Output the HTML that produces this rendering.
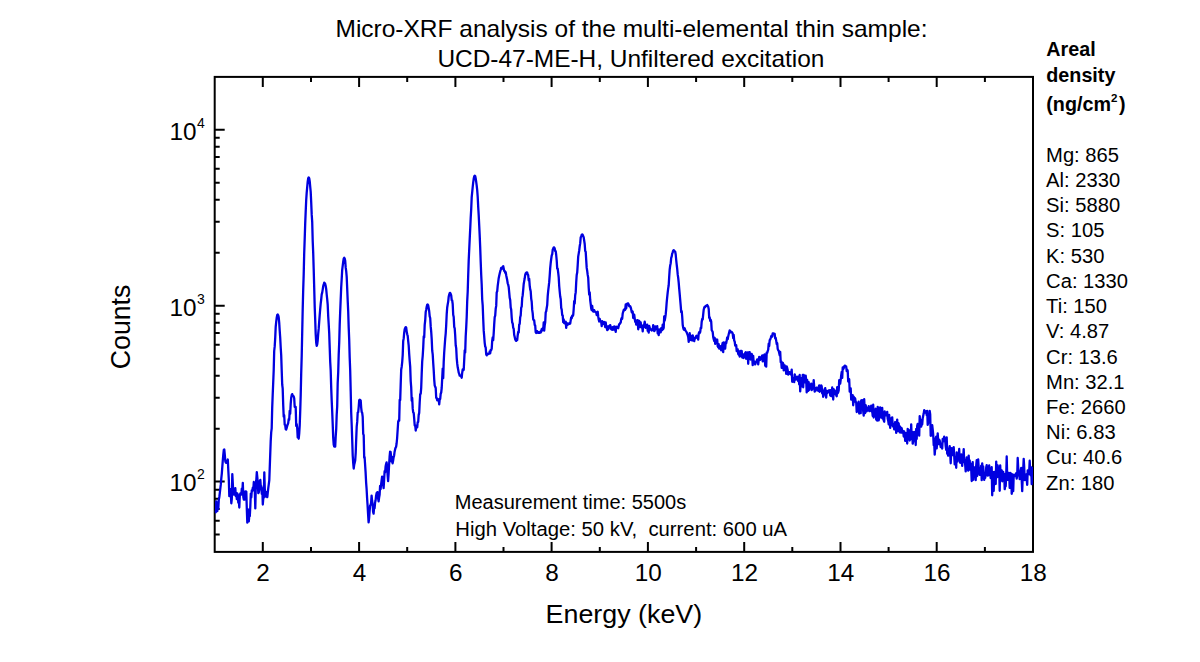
<!DOCTYPE html><html><head><meta charset="utf-8"><title>Micro-XRF</title>
<style>html,body{margin:0;padding:0;background:#fff}svg{display:block}text{font-family:"Liberation Sans",Arial,sans-serif;fill:#000}</style></head><body>
<svg width="1200" height="662" viewBox="0 0 1200 662">
<rect width="1200" height="662" fill="#fff"/>
<rect x="214.7" y="76.9" width="818.3" height="475.0" fill="none" stroke="#000" stroke-width="2"/>
<path d="M262.8 76.9v10M262.8 551.9v-10M311.0 76.9v5M311.0 551.9v-5M359.1 76.9v10M359.1 551.9v-10M407.2 76.9v5M407.2 551.9v-5M455.4 76.9v10M455.4 551.9v-10M503.5 76.9v5M503.5 551.9v-5M551.6 76.9v10M551.6 551.9v-10M599.8 76.9v5M599.8 551.9v-5M647.9 76.9v10M647.9 551.9v-10M696.1 76.9v5M696.1 551.9v-5M744.2 76.9v10M744.2 551.9v-10M792.3 76.9v5M792.3 551.9v-5M840.5 76.9v10M840.5 551.9v-10M888.6 76.9v5M888.6 551.9v-5M936.7 76.9v10M936.7 551.9v-10M984.9 76.9v5M984.9 551.9v-5M214.7 534.6h5M214.7 520.7h5M214.7 508.9h5M214.7 498.7h5M214.7 489.7h5M214.7 481.6h10M214.7 428.7h5M214.7 397.7h5M214.7 375.7h5M214.7 358.7h5M214.7 344.7h5M214.7 333.0h5M214.7 322.8h5M214.7 313.8h5M214.7 305.7h10M214.7 252.7h5M214.7 221.8h5M214.7 199.8h5M214.7 182.7h5M214.7 168.8h5M214.7 157.0h5M214.7 146.8h5M214.7 137.8h5M214.7 129.8h10" stroke="#000" stroke-width="2" fill="none"/>
<clipPath id="c"><rect x="214.7" y="76.9" width="818.3" height="475.0"/></clipPath>
<path clip-path="url(#c)" d="M215.3 511.3L215.8 512.3L216.3 501.3L216.8 507.9L217.3 511.1L217.8 505.6L218.3 508.7L218.8 499.7L219.3 497.0L219.8 493.2L220.3 488.6L220.8 484.4L221.3 478.3L221.8 473.6L222.3 466.8L222.8 460.4L223.3 454.7L223.8 449.9L224.3 449.5L224.8 454.9L225.3 461.1L225.8 462.6L226.3 462.9L226.8 462.5L227.3 461.5L227.8 459.5L228.3 470.2L228.8 479.3L229.3 496.1L229.8 493.9L230.3 489.2L230.8 493.2L231.3 503.3L231.8 499.0L232.3 474.1L232.8 483.3L233.3 493.3L233.8 494.6L234.3 493.1L234.8 490.4L235.3 488.1L235.8 496.1L236.3 492.9L236.8 499.1L237.3 493.5L237.8 494.7L238.3 502.7L238.8 500.2L239.3 507.5L239.8 495.9L240.3 493.5L240.8 493.9L241.3 494.6L241.8 488.7L242.3 492.8L242.8 482.9L243.3 497.0L243.8 499.5L244.3 493.5L244.8 499.5L245.3 491.3L245.8 493.3L246.3 491.5L246.8 508.7L247.3 522.7L247.8 509.1L248.3 516.3L248.8 521.4L249.3 515.3L249.8 516.1L250.3 506.7L250.8 493.6L251.3 497.5L251.8 490.4L252.3 491.2L252.8 487.7L253.3 489.7L253.8 482.0L254.3 489.8L254.8 490.6L255.3 508.4L255.8 486.1L256.3 480.2L256.8 472.1L257.3 477.2L257.8 483.1L258.3 493.2L258.8 492.4L259.3 489.4L259.8 481.0L260.3 479.9L260.8 486.5L261.3 486.3L261.8 493.9L262.3 488.1L262.8 504.5L263.3 497.9L263.8 497.8L264.3 472.3L264.8 489.0L265.3 493.1L265.8 496.6L266.3 492.2L266.8 495.5L267.3 497.1L267.8 492.3L268.3 487.9L268.8 484.2L269.3 480.2L270.7 441.3L271.2 432.4L271.7 428.3L272.2 407.9L272.7 394.7L273.2 382.7L273.7 370.3L274.2 351.0L274.7 346.4L275.2 338.1L275.7 326.9L276.2 321.9L276.7 317.8L277.2 315.1L277.7 314.5L278.2 315.4L278.7 317.4L279.2 322.5L279.7 330.5L280.2 337.7L280.7 347.2L281.2 355.2L281.7 370.2L282.2 384.5L282.7 388.7L283.2 404.7L283.7 416.6L284.2 415.2L284.7 424.7L285.2 425.0L285.7 429.1L286.2 429.5L286.7 427.9L287.2 426.0L287.7 424.5L288.2 423.2L288.7 419.2L289.2 419.7L289.7 410.8L290.2 413.8L290.7 403.9L291.2 397.8L291.7 395.1L292.2 394.1L292.7 395.6L293.2 395.8L293.7 396.5L294.2 398.2L294.7 406.9L295.2 407.1L295.7 407.0L296.2 426.0L296.7 424.1L297.2 428.0L297.7 437.4L298.2 437.3L298.7 438.7L299.2 433.7L299.7 425.7L300.2 411.8L300.7 395.3L301.2 373.4L301.7 356.3L302.2 332.8L302.7 309.2L303.2 289.8L303.7 274.1L304.2 253.2L304.7 238.9L305.2 223.6L305.7 211.4L306.2 200.0L306.7 192.6L307.2 187.2L307.7 181.7L308.2 178.3L308.7 177.4L309.2 178.3L309.7 181.2L310.2 186.6L310.7 191.9L311.2 202.4L311.7 214.4L312.2 221.8L312.7 240.8L313.2 252.9L313.7 269.2L314.2 287.5L314.7 306.6L315.2 319.7L315.7 334.1L316.2 342.6L316.7 345.9L317.2 344.3L317.7 340.5L318.2 333.9L318.7 328.7L319.2 321.6L319.7 315.2L320.2 309.2L320.7 303.7L321.2 299.5L321.7 294.4L322.2 292.6L322.7 289.6L323.2 286.1L323.7 284.7L324.2 282.7L324.7 283.1L325.2 283.9L325.7 286.0L326.2 289.2L326.7 294.5L327.2 299.1L327.7 304.7L328.2 316.1L328.7 324.2L329.2 333.1L329.7 347.4L330.2 361.7L330.7 370.7L331.2 387.6L331.7 400.6L332.2 411.6L332.7 424.1L333.2 437.7L333.7 444.4L334.2 446.5L334.7 446.7L335.2 446.7L335.7 436.4L336.2 429.1L336.7 414.7L337.2 406.2L337.7 382.7L338.2 372.4L338.7 354.8L339.2 342.8L339.7 324.7L340.2 311.4L340.7 299.1L341.2 287.2L341.7 278.7L342.2 269.8L342.7 265.9L343.2 261.8L343.7 258.6L344.2 257.8L344.7 258.5L345.2 260.8L345.7 267.7L346.2 271.1L346.7 276.9L347.2 288.6L347.7 300.8L348.2 311.5L348.7 327.4L349.2 339.7L349.7 357.8L350.2 370.7L350.7 391.1L351.2 412.8L351.7 425.2L352.2 439.6L352.7 455.2L353.2 462.9L353.7 468.5L354.2 464.8L354.7 462.7L355.2 460.5L355.7 452.9L356.2 439.1L356.7 426.6L357.2 421.9L357.7 412.6L358.2 412.2L358.7 407.0L359.2 400.3L359.7 399.7L360.2 400.0L360.7 400.5L361.2 407.8L361.7 412.0L362.2 412.9L362.7 416.8L363.2 433.9L363.7 435.2L364.2 457.8L364.6 457.0L365.1 464.8L365.6 472.4L366.1 482.3L366.6 489.0L367.1 498.0L367.6 505.7L368.1 514.5L368.6 522.4L369.1 518.1L369.6 511.4L370.1 505.6L370.6 504.9L371.1 502.8L371.6 495.6L372.1 500.8L372.6 503.7L373.1 512.0L373.6 513.6L374.1 507.6L374.6 508.1L375.1 502.5L375.6 500.3L376.1 495.7L376.6 493.2L377.1 492.4L377.6 492.1L378.1 498.4L378.6 501.4L379.1 497.6L379.6 494.9L380.1 485.9L380.6 489.2L381.1 484.3L381.6 480.5L382.1 476.7L382.6 483.6L383.1 484.0L383.6 488.1L384.1 480.1L384.6 471.2L385.1 472.5L385.6 466.6L386.1 464.1L386.6 462.3L387.1 466.2L387.6 475.0L388.1 481.2L388.6 474.0L389.1 464.7L389.6 456.7L390.1 451.7L390.6 452.0L391.1 456.3L391.6 461.7L392.1 456.8L392.6 463.4L393.1 460.8L393.6 457.4L394.1 455.7L394.6 451.7L395.1 449.4L395.6 447.6L396.1 446.9L396.6 443.5L397.1 438.5L397.7 429.2L398.2 421.7L398.7 420.3L399.2 420.6L399.7 399.8L400.2 399.9L400.7 384.0L401.2 369.5L401.7 366.7L402.2 362.1L402.7 355.1L403.2 341.0L403.7 338.4L404.2 332.7L404.7 329.2L405.2 328.1L405.7 327.1L406.2 327.6L406.7 331.6L407.2 334.2L407.7 335.9L408.2 341.2L408.7 345.7L409.2 354.1L409.7 360.9L410.2 366.9L410.7 381.0L411.2 387.3L411.7 400.8L412.2 398.0L412.7 408.4L413.2 412.3L413.7 413.0L414.2 418.7L414.7 425.5L415.2 425.1L415.7 430.5L416.2 427.6L416.7 427.4L417.2 427.4L417.7 422.2L418.2 421.9L418.7 414.9L419.2 412.9L419.7 402.2L420.2 394.0L420.7 393.8L421.2 387.8L421.7 373.7L422.2 361.4L422.7 356.0L423.2 347.9L423.7 336.5L424.2 337.5L424.7 324.9L425.2 320.5L425.7 312.0L426.2 309.7L426.7 306.8L427.2 304.8L427.7 304.5L428.2 305.4L428.7 308.2L429.2 311.3L429.7 316.4L430.2 318.0L430.7 326.4L431.2 331.6L431.7 339.1L432.2 350.5L432.7 354.3L433.2 362.7L433.7 370.2L434.2 379.3L434.7 385.4L435.2 386.8L435.7 388.0L436.2 397.9L436.7 397.9L437.2 400.3L437.7 400.2L438.2 400.5L438.7 399.3L439.2 404.4L439.7 399.5L440.2 398.9L440.7 393.7L441.2 392.5L441.7 388.0L442.2 378.3L442.7 368.6L443.2 378.1L443.7 362.0L444.2 352.5L444.7 345.5L445.2 338.6L445.7 333.5L446.2 325.0L446.7 314.2L447.2 307.5L447.7 304.4L448.2 301.6L448.7 296.7L449.2 294.6L449.7 293.1L450.2 292.9L450.7 294.0L451.2 295.3L451.7 300.2L452.2 300.5L452.7 304.2L453.2 314.8L453.7 317.0L454.2 326.9L454.7 328.4L455.2 335.5L455.7 345.2L456.2 348.1L456.7 357.8L457.2 363.4L457.7 367.3L458.2 369.7L458.7 372.6L459.2 373.9L459.7 375.7L460.2 375.6L460.7 375.6L461.2 376.6L461.7 377.7L462.2 372.7L462.7 369.5L463.2 370.1L463.7 369.9L464.2 360.2L464.7 350.3L465.2 352.4L465.7 336.3L466.2 327.6L466.7 317.0L467.2 301.2L467.7 291.7L468.2 275.3L468.7 260.6L469.2 249.7L469.7 239.1L470.2 229.0L470.7 217.9L471.2 209.2L471.7 197.2L472.2 192.1L472.7 187.0L473.2 182.5L473.7 178.8L474.2 176.4L474.7 175.7L475.2 176.1L475.7 178.5L476.2 181.9L476.7 185.6L477.2 190.1L477.7 196.9L478.2 206.9L478.7 215.1L479.2 225.3L479.7 235.6L480.2 247.6L480.7 261.7L481.2 274.8L481.7 284.7L482.2 299.5L482.7 305.5L483.2 318.7L483.7 330.4L484.2 336.3L484.7 342.8L485.2 346.5L485.7 347.6L486.2 354.2L486.7 355.4L487.2 353.7L487.7 354.3L488.2 354.1L488.7 353.7L489.2 353.7L489.7 351.4L490.2 353.3L490.7 349.8L491.2 350.1L491.7 348.6L492.2 340.8L492.7 337.4L493.2 340.1L493.7 333.1L494.2 324.4L494.7 317.2L495.2 315.6L495.7 308.8L496.2 305.9L496.7 292.4L497.2 291.3L497.7 285.8L498.2 282.1L498.7 278.2L499.2 275.7L499.7 273.6L500.2 271.4L500.7 269.8L501.2 267.9L501.7 268.8L502.2 268.5L502.7 266.8L503.2 266.1L503.7 268.6L504.2 270.9L504.7 271.0L505.2 272.8L505.7 272.2L506.2 275.3L506.7 277.7L507.2 280.1L507.7 283.3L508.2 284.7L508.7 287.0L509.2 292.4L509.7 297.8L510.2 299.9L510.7 307.5L511.2 309.6L511.7 317.5L512.2 322.6L512.7 323.4L513.2 327.8L513.7 328.8L514.2 335.0L514.7 336.9L515.2 339.2L515.7 340.4L516.2 340.9L516.7 339.3L517.2 340.1L517.7 335.2L518.2 332.0L518.7 332.5L519.2 324.6L519.7 323.8L520.2 317.2L520.7 315.4L521.2 307.7L521.7 306.6L522.2 298.1L522.7 295.2L523.2 289.8L523.7 284.0L524.2 281.1L524.7 278.3L525.2 274.8L525.7 273.3L526.2 272.8L526.7 272.3L527.2 272.5L527.7 274.5L528.2 275.2L528.7 280.5L529.2 278.9L529.7 285.6L530.2 289.4L530.7 291.3L531.2 298.6L531.7 301.7L532.2 309.9L532.7 313.3L533.2 319.3L533.7 320.2L534.2 320.4L534.7 325.0L535.2 325.6L535.7 332.1L536.2 333.0L536.7 332.8L537.2 331.2L537.7 332.1L538.2 332.9L538.7 332.3L539.2 332.9L539.7 332.6L540.2 331.8L540.7 332.5L541.2 331.6L541.7 329.1L542.2 330.4L542.7 328.2L543.2 329.8L543.7 322.5L544.2 330.6L544.7 325.4L545.2 322.2L545.7 312.4L546.2 311.2L546.7 308.0L547.2 305.1L547.7 296.1L548.2 290.9L548.7 286.6L549.2 282.2L549.7 275.7L550.2 268.1L550.7 263.0L551.2 259.0L551.7 255.5L552.2 254.3L552.7 249.8L553.2 248.6L553.7 247.5L554.2 247.5L554.7 248.6L555.2 250.9L555.7 251.2L556.2 255.0L556.7 260.3L557.2 268.7L557.7 268.6L558.2 272.6L558.7 277.1L559.2 286.0L559.7 291.5L560.2 296.5L560.7 298.9L561.2 307.9L561.7 309.6L562.2 315.1L562.7 315.3L563.2 322.1L563.7 319.4L564.2 323.0L564.7 323.4L565.2 322.4L565.7 321.7L566.2 327.9L566.7 323.0L567.2 323.9L567.7 324.8L568.2 323.6L568.7 324.0L569.2 323.3L569.7 323.8L570.2 323.6L570.7 320.4L571.2 317.3L571.7 318.2L572.2 315.6L572.7 316.1L573.2 315.1L573.7 309.0L574.2 301.1L574.7 303.5L575.2 295.3L575.7 292.4L576.2 282.4L576.7 275.0L577.2 272.6L577.7 265.1L578.2 256.6L578.7 253.6L579.2 250.5L579.7 246.3L580.2 243.4L580.7 237.4L581.2 236.5L581.7 234.7L582.2 234.4L582.7 234.9L583.2 236.3L583.7 237.3L584.2 240.7L584.7 244.0L585.2 251.0L585.7 251.9L586.2 259.9L586.7 267.9L587.2 270.9L587.7 274.9L588.2 277.6L588.7 287.6L589.2 294.7L589.7 292.3L590.2 300.0L590.7 304.1L591.2 308.4L591.7 310.1L592.2 306.0L592.7 310.5L593.2 311.5L593.7 311.5L594.2 310.1L594.7 311.4L595.2 311.7L595.7 312.0L596.2 312.5L596.7 315.0L597.2 312.9L597.7 311.7L598.2 316.4L598.7 319.5L599.2 321.5L599.7 318.9L600.2 320.9L600.7 321.4L601.2 321.8L601.7 326.1L602.2 321.1L602.7 322.8L603.2 323.8L603.7 323.3L604.2 322.0L604.7 324.5L605.2 327.1L605.7 322.4L606.2 326.6L606.7 327.7L607.2 330.1L607.7 326.4L608.2 329.3L608.7 328.2L609.2 326.0L609.7 327.3L610.2 325.1L610.7 327.1L611.2 329.2L611.7 329.2L612.2 329.9L612.7 327.1L613.2 328.6L613.7 329.6L614.2 326.3L614.7 328.1L615.2 329.3L615.7 331.9L616.2 326.7L616.7 326.9L617.2 327.0L617.7 327.8L618.2 328.2L618.7 326.0L619.2 324.1L619.7 324.0L620.2 323.0L620.7 322.6L621.2 319.2L621.7 318.0L622.2 318.7L622.7 313.5L623.2 311.8L623.7 310.0L624.2 310.5L624.7 309.0L625.2 309.7L625.7 304.5L626.2 308.3L626.7 304.5L627.2 303.7L627.7 303.3L628.2 303.4L628.7 304.4L629.2 306.3L629.7 306.5L630.2 306.1L630.7 307.4L631.2 309.4L631.7 312.1L632.2 312.6L632.7 311.5L633.2 318.0L633.7 316.8L634.2 314.6L634.7 318.4L635.2 321.9L635.7 320.3L636.2 324.6L636.7 323.5L637.2 320.4L637.7 320.1L638.2 329.3L638.7 323.5L639.2 320.8L639.7 327.0L640.2 325.1L640.7 322.3L641.2 327.3L641.7 325.1L642.2 326.4L642.7 331.4L643.2 325.6L643.7 327.0L644.2 324.4L644.7 321.7L645.2 325.1L645.7 327.8L646.2 325.8L646.7 326.5L647.2 324.6L647.7 330.8L648.2 330.2L648.7 332.6L649.2 325.9L649.7 327.5L650.2 329.2L650.7 329.6L651.2 329.4L651.7 330.5L652.2 329.1L652.7 329.7L653.2 325.2L653.7 328.0L654.2 331.1L654.7 330.7L655.2 326.4L655.7 328.4L656.2 329.0L656.7 328.1L657.2 326.1L657.7 333.4L658.2 332.3L658.7 335.1L659.2 329.3L659.7 331.6L660.2 332.3L660.7 332.3L661.2 328.2L661.7 329.8L662.2 330.1L662.7 324.6L663.2 329.0L663.7 327.8L664.2 316.4L664.7 320.6L665.2 317.8L665.7 314.4L666.2 308.8L666.7 302.1L667.2 297.1L667.7 292.3L668.2 288.4L668.7 285.3L669.2 276.6L669.7 269.4L670.2 265.5L670.7 263.2L671.2 257.9L671.7 256.5L672.2 253.5L672.7 252.4L673.2 250.6L673.7 250.2L674.2 250.6L674.7 251.3L675.2 251.7L675.7 254.5L676.2 260.0L676.7 264.6L677.2 268.9L677.7 274.4L678.2 277.8L678.7 282.6L679.2 288.6L679.7 294.2L680.2 299.8L680.7 305.7L681.2 312.1L681.7 311.0L682.2 316.5L682.7 324.7L683.2 327.7L683.7 329.4L684.2 329.8L684.7 328.3L685.2 330.1L685.7 330.9L686.2 331.6L686.7 332.3L687.2 333.9L687.7 335.1L688.2 337.0L688.7 341.9L689.2 337.8L689.7 333.1L690.2 339.5L690.7 340.0L691.2 335.9L691.7 338.7L692.2 340.5L692.7 335.3L693.2 337.9L693.7 337.6L694.2 341.2L694.7 338.3L695.2 338.5L695.7 337.3L696.2 336.1L696.7 335.8L697.2 337.8L697.7 335.7L698.2 339.7L698.7 333.7L699.2 332.1L699.7 333.1L700.2 332.0L700.7 327.9L701.2 328.2L701.7 321.7L702.2 319.0L702.7 319.3L703.2 314.3L703.7 309.7L704.2 307.8L704.7 306.6L705.2 307.0L705.7 306.1L706.2 305.7L706.7 305.8L707.2 305.0L707.7 306.0L708.2 306.7L708.7 308.9L709.2 317.9L709.7 317.4L710.2 320.8L710.7 319.7L711.2 321.6L711.7 330.2L712.2 331.0L712.7 332.1L713.2 337.0L713.7 339.2L714.2 340.9L714.7 338.0L715.2 343.9L715.7 339.1L716.2 342.6L716.7 341.3L717.2 339.7L717.7 346.3L718.2 347.2L718.7 344.1L719.2 348.6L719.7 348.1L720.2 346.6L720.7 346.1L721.2 350.3L721.7 347.8L722.2 345.0L722.7 342.8L723.2 352.2L723.7 342.5L724.2 343.2L724.7 348.1L725.2 348.5L725.7 342.1L726.2 343.3L726.7 340.6L727.2 337.3L727.7 339.2L728.2 336.4L728.7 334.3L729.2 332.4L729.7 330.4L730.2 331.0L730.7 332.3L731.2 332.3L731.7 331.9L732.2 332.6L732.7 333.5L733.2 338.0L733.7 335.0L734.2 340.6L734.7 341.5L735.2 345.7L735.7 345.1L736.2 345.1L736.7 351.1L737.2 350.6L737.7 349.4L738.2 353.9L738.7 354.7L739.2 354.1L739.7 356.5L740.2 350.9L740.7 356.0L741.2 351.1L741.7 350.9L742.2 357.5L742.7 354.0L743.2 355.7L743.7 358.0L744.2 355.7L744.7 355.6L745.2 352.9L745.7 352.2L746.2 358.8L746.7 356.8L747.2 354.2L747.7 352.4L748.2 363.8L748.7 352.5L749.2 356.9L749.7 352.1L750.2 358.1L750.7 359.5L751.2 357.0L751.7 353.8L752.2 357.4L752.7 365.2L753.2 355.8L753.7 363.1L754.2 361.3L754.7 362.0L755.2 364.4L755.7 362.7L756.2 362.0L756.7 361.0L757.2 359.4L757.7 360.5L758.2 364.3L758.7 360.3L759.2 356.9L759.7 357.2L760.2 359.8L760.7 358.4L761.2 357.7L761.7 356.4L762.2 355.4L762.7 361.4L763.2 361.1L763.7 355.6L764.2 354.9L764.7 354.4L765.2 365.8L765.7 358.0L766.2 366.7L766.7 352.6L767.2 352.9L767.7 351.1L768.2 349.7L768.7 343.6L769.2 346.0L769.7 340.2L770.2 339.5L770.7 338.1L771.2 336.2L771.7 335.6L772.2 336.6L772.7 333.3L773.2 333.4L773.7 333.6L774.2 333.7L774.7 333.8L775.2 338.5L775.7 337.9L776.2 340.6L776.7 344.1L777.2 343.0L777.7 348.8L778.2 350.2L778.7 350.8L779.2 352.9L779.7 355.3L780.2 351.9L780.7 362.1L781.2 361.5L781.7 367.8L782.2 363.7L782.7 362.7L783.2 363.5L783.7 370.3L784.2 369.8L784.7 365.3L785.2 370.2L785.7 367.2L786.2 373.9L786.7 366.4L787.2 367.9L787.7 370.1L788.2 374.7L788.7 372.8L789.2 372.1L789.7 372.1L790.2 373.6L790.7 374.3L791.2 373.3L791.7 369.6L792.2 381.8L792.7 379.7L793.2 380.7L793.7 377.9L794.2 382.1L794.7 374.3L795.2 376.1L795.7 377.7L796.2 379.5L796.7 376.9L797.2 377.1L797.7 376.9L798.2 381.0L798.7 376.4L799.2 384.4L799.7 375.0L800.2 391.4L800.7 382.1L801.2 384.7L801.7 377.8L802.2 386.4L802.7 375.0L803.2 387.3L803.7 374.9L804.2 380.6L804.7 382.4L805.2 381.3L805.7 375.6L806.2 380.3L806.7 392.4L807.2 379.9L807.7 383.6L808.2 390.9L808.7 382.2L809.2 389.8L809.7 384.7L810.2 384.7L810.7 388.2L811.2 383.6L811.7 390.1L812.2 385.7L812.7 388.7L813.2 387.5L813.7 380.2L814.2 386.8L814.7 391.6L815.2 388.1L815.7 390.7L816.2 387.9L816.7 387.6L817.2 388.1L817.7 388.3L818.2 390.9L818.7 387.4L819.2 385.4L819.7 391.8L820.2 389.9L820.7 389.6L821.2 385.4L821.7 386.3L822.2 393.3L822.7 390.4L823.2 396.8L823.7 394.8L824.2 391.2L824.7 389.1L825.2 388.1L825.7 393.1L826.2 397.5L826.7 390.8L827.2 393.2L827.7 391.1L828.2 392.3L828.7 390.4L829.2 390.8L829.7 390.3L830.2 395.5L830.7 390.1L831.2 396.1L831.7 393.9L832.2 387.5L832.7 393.2L833.2 399.5L833.7 389.2L834.2 391.1L834.7 390.5L835.2 394.0L835.7 393.2L836.2 395.0L836.7 396.3L837.2 387.1L837.7 393.1L838.2 392.2L838.7 390.4L839.2 380.2L839.7 381.5L840.2 383.6L840.7 379.9L841.2 375.5L841.7 371.8L842.2 377.9L842.7 367.5L843.2 369.0L843.7 368.3L844.2 366.5L844.7 365.6L845.2 365.6L845.7 366.3L846.2 366.6L846.7 371.2L847.2 369.6L847.7 370.8L848.2 381.5L848.7 380.9L849.2 379.2L849.7 391.6L850.2 389.2L850.7 388.2L851.2 399.7L851.7 396.6L852.2 396.7L852.7 395.1L853.2 405.3L853.7 396.6L854.2 400.7L854.7 397.9L855.2 398.6L855.7 402.3L856.2 402.1L856.7 412.0L857.2 410.6L857.7 409.3L858.2 406.7L858.7 401.6L859.2 413.5L859.7 407.2L860.2 411.8L860.7 413.1L861.2 400.4L861.7 406.2L862.2 400.2L862.7 402.1L863.2 411.2L863.7 415.7L864.2 399.2L864.7 409.5L865.2 413.0L865.7 405.2L866.2 407.7L866.7 411.4L867.2 410.2L867.7 408.2L868.2 408.8L868.7 406.1L869.2 411.0L869.7 411.1L870.2 407.3L870.7 408.7L871.2 405.6L871.7 411.5L872.2 411.0L872.7 416.0L873.2 404.7L873.7 417.5L874.2 410.5L874.7 415.6L875.2 410.3L875.7 408.8L876.2 419.7L876.7 413.3L877.2 420.7L877.7 406.8L878.2 414.9L878.7 420.4L879.2 416.5L879.7 407.9L880.2 407.4L880.7 408.4L881.2 417.7L881.7 415.2L882.2 407.9L882.7 418.6L883.2 417.1L883.7 420.4L884.2 421.7L884.7 411.4L885.2 414.2L885.7 415.4L886.2 415.1L886.7 413.6L887.2 411.8L887.7 418.8L888.2 420.7L888.7 424.4L889.2 415.0L889.7 422.6L890.2 427.8L890.7 422.2L891.2 421.2L891.7 417.9L892.2 417.4L892.7 425.9L893.2 426.6L893.7 424.6L894.2 429.4L894.7 424.3L895.2 422.0L895.7 424.3L896.2 432.9L896.7 431.1L897.2 419.6L897.7 430.9L898.2 422.8L898.7 423.6L899.2 428.5L899.7 432.3L900.2 426.7L900.7 432.5L901.2 429.3L901.7 428.2L902.2 432.7L902.7 430.6L903.2 431.3L903.7 436.5L904.2 431.5L904.7 434.1L905.2 440.8L905.7 433.2L906.2 433.2L906.7 435.2L907.2 443.5L907.7 428.9L908.2 429.6L908.7 430.0L909.2 431.9L909.7 440.5L910.2 433.5L910.7 439.3L911.2 424.3L911.7 437.7L912.2 431.8L912.7 443.6L913.2 441.6L913.7 438.1L914.2 431.8L914.7 432.5L915.2 433.7L915.7 445.0L916.2 429.0L916.7 438.9L917.2 425.7L917.7 423.9L918.2 427.7L918.7 425.8L919.2 435.7L919.7 416.1L920.2 425.0L920.7 419.7L921.2 426.6L921.7 421.0L922.2 424.5L922.7 418.3L923.2 415.7L923.7 413.6L924.2 410.1L924.7 412.4L925.2 412.6L925.7 412.7L926.2 411.2L926.7 415.2L927.2 411.0L927.7 424.9L928.2 422.0L928.7 418.0L929.2 422.6L929.7 410.9L930.2 414.5L930.7 435.8L931.2 435.5L931.7 432.5L932.2 425.2L932.7 429.4L933.2 434.6L933.7 445.1L934.2 442.9L934.7 454.6L935.2 448.3L935.7 438.1L936.2 436.6L936.7 448.3L937.2 440.8L937.7 433.4L938.2 441.1L938.7 444.0L939.2 439.6L939.7 440.5L940.2 443.3L940.7 447.1L941.2 446.9L941.7 444.5L942.2 448.5L942.7 438.9L943.2 441.5L943.7 441.0L944.2 436.7L944.7 439.3L945.2 440.5L945.7 446.4L946.2 449.9L946.7 437.4L947.2 453.6L947.7 453.7L948.2 455.6L948.7 449.7L949.2 449.0L949.7 446.1L950.2 453.5L950.7 463.3L951.2 451.3L951.7 448.1L952.2 453.7L952.7 455.1L953.2 451.6L953.7 447.1L954.2 455.7L954.7 464.4L955.2 459.2L955.7 457.1L956.2 467.8L956.7 452.3L957.2 461.7L957.7 454.3L958.2 456.4L958.7 459.7L959.2 449.0L959.7 461.8L960.2 462.8L960.7 457.2L961.2 454.4L961.7 459.5L962.2 465.9L962.7 456.0L963.2 456.8L963.7 449.1L964.2 462.3L964.7 459.9L965.2 465.0L965.7 471.4L966.2 461.6L966.7 457.3L967.2 469.1L967.7 467.1L968.2 470.7L968.7 455.6L969.2 467.6L969.7 460.4L970.2 469.7L970.7 463.9L971.2 468.6L971.7 481.0L972.2 464.6L972.7 462.1L973.2 479.8L973.7 466.9L974.2 468.9L974.7 473.4L975.2 468.2L975.7 480.1L976.2 465.5L976.7 460.2L977.2 476.0L977.7 468.2L978.2 459.5L978.7 467.6L979.2 471.9L979.7 474.8L980.2 467.9L980.7 470.2L981.2 465.6L981.7 480.2L982.2 463.4L982.7 472.9L983.2 466.5L983.7 475.6L984.2 479.9L984.7 475.0L985.2 477.8L985.7 474.0L986.2 467.6L986.7 465.1L987.2 470.7L987.7 475.7L988.2 475.3L988.7 468.6L989.2 465.5L989.7 474.8L990.2 473.7L990.7 478.1L991.2 471.8L991.7 467.2L992.2 495.3L992.7 471.9L993.2 477.4L993.7 490.9L994.2 471.9L994.7 474.7L995.2 471.9L995.7 484.0L996.2 461.6L996.7 474.0L997.2 477.2L997.7 465.5L998.2 470.9L998.7 469.9L999.2 468.1L999.7 490.8L1000.2 465.3L1000.7 478.2L1001.2 474.1L1001.7 470.3L1002.2 481.3L1002.7 474.5L1003.2 471.9L1003.7 477.3L1004.2 474.0L1004.7 489.2L1005.2 486.2L1005.7 486.1L1006.2 475.7L1006.7 456.5L1007.2 476.8L1007.7 479.8L1008.2 479.5L1008.7 472.8L1009.2 474.7L1009.7 487.9L1010.2 473.0L1010.7 479.6L1011.2 473.7L1011.7 493.8L1012.2 489.9L1012.7 474.3L1013.2 491.2L1013.7 475.1L1014.2 475.1L1014.7 476.1L1015.2 474.4L1015.7 474.7L1016.2 473.2L1016.7 478.6L1017.2 475.7L1017.7 458.0L1018.2 467.8L1018.7 470.8L1019.2 471.9L1019.7 479.1L1020.2 472.5L1020.7 475.5L1021.2 467.8L1021.7 480.0L1022.2 491.1L1022.7 477.4L1023.2 469.2L1023.7 458.9L1024.2 467.1L1024.7 480.2L1025.2 474.8L1025.7 479.8L1026.2 474.5L1026.7 479.3L1027.2 484.8L1027.7 470.3L1028.2 471.8L1028.7 474.1L1029.2 470.7L1029.7 460.7L1030.2 472.1L1030.7 475.3L1031.2 467.3L1031.7 484.2L1032.2 467.9L1032.7 477.8L1033.2 478.1" fill="none" stroke="#0000e0" stroke-width="2.3" stroke-linejoin="round" stroke-linecap="round"/>
<text x="263.1" y="581.2" font-size="24.3" text-anchor="middle">2</text>
<text x="359.4" y="581.2" font-size="24.3" text-anchor="middle">4</text>
<text x="455.7" y="581.2" font-size="24.3" text-anchor="middle">6</text>
<text x="551.9" y="581.2" font-size="24.3" text-anchor="middle">8</text>
<text x="648.2" y="581.2" font-size="24.3" text-anchor="middle">10</text>
<text x="744.5" y="581.2" font-size="24.3" text-anchor="middle">12</text>
<text x="840.8" y="581.2" font-size="24.3" text-anchor="middle">14</text>
<text x="937.0" y="581.2" font-size="24.3" text-anchor="middle">16</text>
<text x="1033.3" y="581.2" font-size="24.3" text-anchor="middle">18</text>
<text x="196.6" y="491.4" font-size="24.3" text-anchor="end">10</text>
<text x="196.9" y="479.4" font-size="14">2</text>
<text x="196.6" y="315.5" font-size="24.3" text-anchor="end">10</text>
<text x="196.9" y="303.5" font-size="14">3</text>
<text x="196.6" y="139.6" font-size="24.3" text-anchor="end">10</text>
<text x="196.9" y="127.5" font-size="14">4</text>
<text x="335.5" y="37.3" font-size="24" textLength="592" lengthAdjust="spacingAndGlyphs">Micro-XRF analysis of the multi-elemental thin sample:</text>
<text x="437.4" y="67.2" font-size="24" textLength="387" lengthAdjust="spacingAndGlyphs">UCD-47-ME-H, Unfiltered excitation</text>
<text x="545.6" y="623.4" font-size="26.2" textLength="156.6" lengthAdjust="spacingAndGlyphs">Energy (keV)</text>
<text transform="translate(130.2 369.2) rotate(-90)" font-size="27" textLength="84.6" lengthAdjust="spacingAndGlyphs">Counts</text>
<text x="454.8" y="508.6" font-size="19.6" textLength="231.4" lengthAdjust="spacingAndGlyphs">Measurement time: 5500s</text>
<text x="455.3" y="535.7" font-size="19.6" textLength="331.8" lengthAdjust="spacingAndGlyphs">High Voltage: 50 kV,&#160; current: 600 uA</text>
<g transform="translate(1046.3 0) scale(1.008 1)">
<text x="0" y="55.9" font-size="19.6" font-weight="bold">Areal</text>
<text x="0" y="82.5" font-size="19.6" font-weight="bold">density</text>
<text x="0" y="110.9" font-size="19.6" font-weight="bold">(ng/cm<tspan font-size="11.5" dy="-9">2</tspan><tspan dy="9" dx="1.5">)</tspan></text>
</g>
<g transform="translate(1046.5 0) scale(1.03 1)">
<text x="-0.4" y="161.8" font-size="19.6">Mg: 865</text>
<text x="-0.4" y="187.0" font-size="19.6">Al: 2330</text>
<text x="-0.4" y="212.2" font-size="19.6">Si: 5880</text>
<text x="-0.4" y="237.5" font-size="19.6">S: 105</text>
<text x="-0.4" y="262.7" font-size="19.6">K: 530</text>
<text x="-0.4" y="287.9" font-size="19.6">Ca: 1330</text>
<text x="-0.4" y="313.1" font-size="19.6">Ti: 150</text>
<text x="-0.4" y="338.3" font-size="19.6">V: 4.87</text>
<text x="-0.4" y="363.6" font-size="19.6">Cr: 13.6</text>
<text x="-0.4" y="388.8" font-size="19.6">Mn: 32.1</text>
<text x="-0.4" y="414.0" font-size="19.6">Fe: 2660</text>
<text x="-0.4" y="439.2" font-size="19.6">Ni: 6.83</text>
<text x="-0.4" y="464.4" font-size="19.6">Cu: 40.6</text>
<text x="-0.4" y="489.7" font-size="19.6">Zn: 180</text>
</g>
</svg></body></html>
